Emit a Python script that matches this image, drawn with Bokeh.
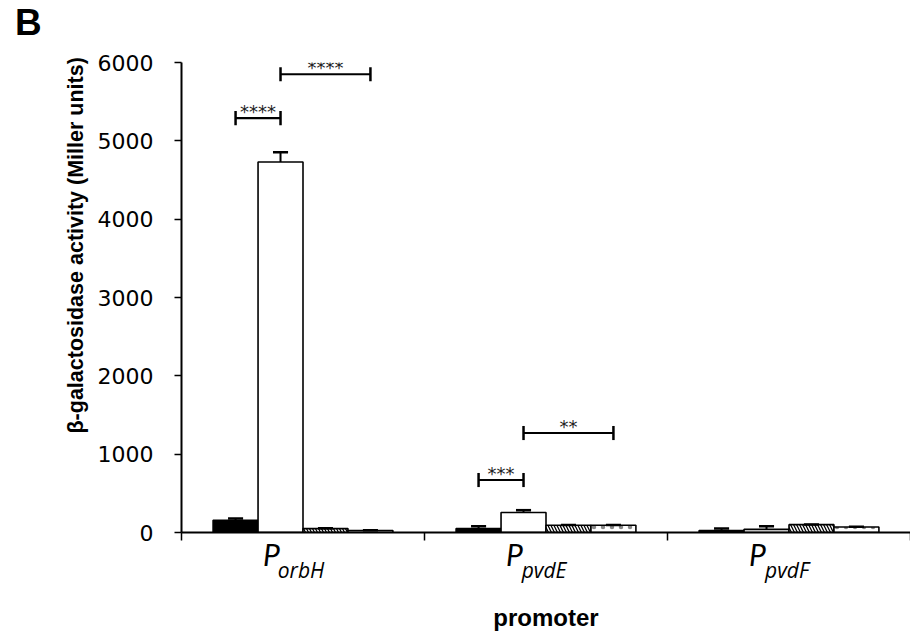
from bokeh.plotting import figure
from bokeh.models import Range1d, FixedTicker, Label, ColumnDataSource, LinearAxis, Title, Div
from bokeh.layouts import row
from bokeh.embed import file_html
from bokeh.resources import INLINE

# ---------------- data ----------------
promoters = ["orbH", "pvdE", "pvdF"]          # P_orbH, P_pvdE, P_pvdF
conditions = ["cond1", "cond2", "cond3", "cond4"]

cond1_mean = [155, 50, 25]
cond2_mean = [4730, 255, 40]
cond3_mean = [50, 93, 100]
cond4_mean = [25, 93, 70]

cond1_err = [25, 30, 25]
cond2_err = [125, 30, 40]
cond3_err = [3, 3, 3]
cond4_err = [3, 3, 3]

# significance brackets: promoter index, from bar, to bar, height, label
br_promoter = [0, 0, 1, 1]
br_from = [0, 1, 0, 1]
br_to = [1, 3, 1, 3]
br_y = [5290, 5850, 670, 1270]
br_text = ["****", "****", "***", "**"]

y_ticks = [0, 1000, 2000, 3000, 4000, 5000, 6000]

# ---------------- styles ----------------
means = [cond1_mean, cond2_mean, cond3_mean, cond4_mean]
errs = [cond1_err, cond2_err, cond3_err, cond4_err]
fills = ["black", "white", "white", "white"]
hatches = [None, None, "left_diagonal_line", "dot"]
hatch_colors = ["black", "black", "black", "#888888"]
hatch_scales = [6, 6, 6, 9]

BAR_W = 0.185
CAP_W = 0.062
P_SHIFT = -0.13
SUB_SHIFT = -0.008
LEFT_DIV = 40

p = figure(width=870, height=634, x_range=Range1d(0, 3), y_range=Range1d(0, 6000),
           output_backend="svg", toolbar_location=None,
           min_border_left=181 - LEFT_DIV, min_border_right=0, min_border_top=62,
           min_border_bottom=102)
p.outline_line_color = None
p.xgrid.visible = False
p.ygrid.visible = False
p.background_fill_color = "white"

def bar_x(i, j):
    return i + 0.5 + (j - 1.5) * BAR_W

for j in range(4):
    xs = [bar_x(i, j) for i in range(len(promoters))]
    tops = means[j]
    src = ColumnDataSource(dict(x=xs, top=tops))
    kw = {}
    if hatches[j]:
        kw = dict(hatch_pattern=hatches[j], hatch_color=hatch_colors[j],
                  hatch_scale=hatch_scales[j], hatch_weight=1.3)
    p.vbar(x="x", top="top", bottom=0, width=BAR_W, source=src,
           fill_color=fills[j], line_color="black", line_width=1.6, **kw)
    ups = [m + e for m, e in zip(means[j], errs[j])]
    p.segment(x0=xs, y0=tops, x1=xs, y1=ups, line_color="black", line_width=2)
    p.segment(x0=[x - CAP_W / 2 for x in xs], y0=ups, x1=[x + CAP_W / 2 for x in xs], y1=ups,
              line_color="black", line_width=2.5)

# significance brackets
for pi_, a, b, y, t in zip(br_promoter, br_from, br_to, br_y, br_text):
    xa, xb = bar_x(pi_, a), bar_x(pi_, b)
    p.segment(x0=[xa], y0=[y], x1=[xb], y1=[y], line_color="black", line_width=2.2)
    p.segment(x0=[xa, xb], y0=[y - 90, y - 90], x1=[xa, xb], y1=[y + 90, y + 90],
              line_color="black", line_width=2.5)
    p.add_layout(Label(x=(xa + xb) / 2, y=y + 85, text=t, text_align="center",
                       text_baseline="alphabetic", text_font="DejaVu Sans",
                       text_font_size="18px", text_color="#222222"))

# main x axis: category boundaries
p.xaxis.ticker = FixedTicker(ticks=[0, 1, 2, 3])
p.xaxis.major_label_text_font_size = "0px"
p.xaxis.major_label_standoff = 0
p.xaxis.major_tick_out = 8
p.xaxis.major_tick_in = 0
p.xaxis.minor_tick_line_color = None
p.xaxis.axis_line_width = 2
p.xaxis.major_tick_line_width = 1.5

# "P" labels
p_ticks = [i + 0.5 + P_SHIFT for i in range(len(promoters))]
axP = LinearAxis(ticker=FixedTicker(ticks=p_ticks),
                 major_label_overrides={t: "P" for t in p_ticks},
                 axis_line_color=None, major_tick_line_color=None, minor_tick_line_color=None,
                 major_label_text_font="Lato", major_label_text_font_style="italic",
                 major_label_text_font_size="30px", major_label_text_color="black",
                 major_label_standoff=-11)
p.add_layout(axP, "below")

# subscripts
s_ticks = [i + 0.5 + SUB_SHIFT for i in range(len(promoters))]
axS = LinearAxis(ticker=FixedTicker(ticks=s_ticks),
                 major_label_overrides={t: n for t, n in zip(s_ticks, promoters)},
                 axis_line_color=None, major_tick_line_color=None, minor_tick_line_color=None,
                 major_label_text_font="Open Sans", major_label_text_font_style="italic",
                 major_label_text_font_size="21px", major_label_text_color="black",
                 major_label_standoff=-25,
                 axis_label="promoter", axis_label_standoff=17,
                 axis_label_text_font="Liberation Sans", axis_label_text_font_style="bold",
                 axis_label_text_font_size="24px", axis_label_text_color="black")
p.add_layout(axS, "below")

# y axis
p.yaxis.ticker = FixedTicker(ticks=y_ticks)
p.yaxis.major_label_text_font = "DejaVu Sans"
p.yaxis.major_label_text_font_size = "22px"
p.yaxis.major_label_text_color = "black"
p.yaxis.major_label_standoff = 21
p.yaxis.major_tick_out = 7
p.yaxis.major_tick_in = 0
p.yaxis.minor_tick_line_color = None
p.yaxis.axis_line_width = 2
p.yaxis.major_tick_line_width = 1.5

# y-axis title
p.add_layout(Title(text="β-galactosidase activity (Miller units)", align="left", offset=99,
                   standoff=14, text_font="Liberation Sans", text_font_style="bold",
                   text_font_size="21.5px", text_color="black"), "left")

# panel letter
letter = Div(text='<span style="display:inline-block;margin:2px 0 0 15px;'
                  'font-family:\'Liberation Sans\';font-weight:bold;font-size:37px;'
                  'line-height:1.15;color:black">B</span>',
             width=LEFT_DIV, height=50, margin=0)

layout = row(letter, p)
open("out.html", "w").write(file_html(layout, INLINE))
